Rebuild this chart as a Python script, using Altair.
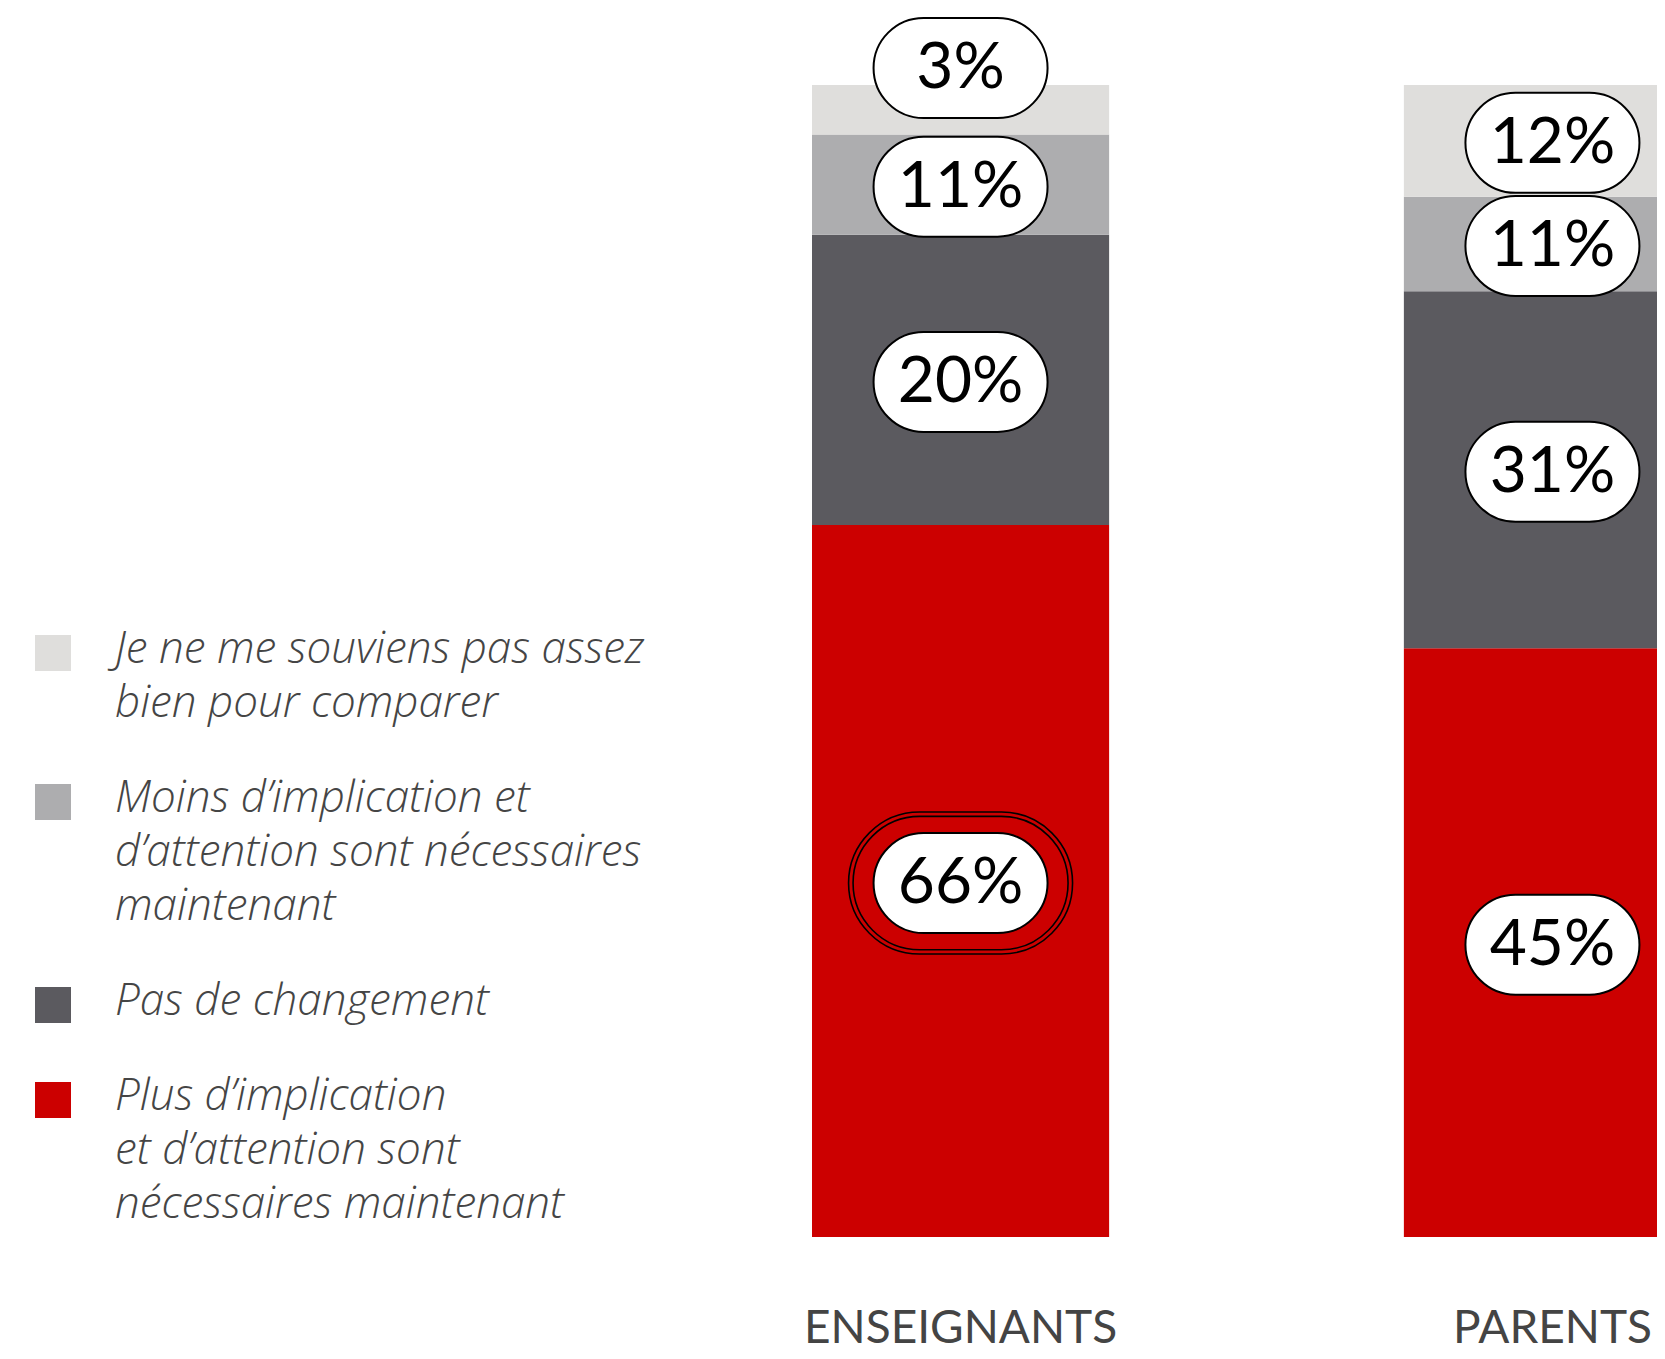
import altair as alt
import pandas as pd

# ---------------- data ----------------
groups = ["ENSEIGNANTS", "PARENTS"]
# stacking order: bottom -> top
categories = [
    "Plus d’implication et d’attention sont nécessaires maintenant",
    "Pas de changement",
    "Moins d’implication et d’attention sont nécessaires maintenant",
    "Je ne me souviens pas assez bien pour comparer",
]
colors = ["#cc0000", "#5b5a5f", "#adadaf", "#dfdedc"]

# printed percentages
labels_enseignants = [66, 20, 11, 3]
labels_parents = [45, 31, 11, 12]
# segment heights as drawn in the picture (share of bar height, %)
heights_enseignants = [61.8, 25.2, 8.7, 4.3]
heights_parents = [51.1, 31.0, 8.2, 9.7]
# highlighted segment (double ring)
highlight_group = "ENSEIGNANTS"
highlight_rank = 0

# legend, top -> bottom
legend_order = [3, 2, 1, 0]
legend_text = [
    "Je ne me souviens pas assez\nbien pour comparer",
    "Moins d’implication et\nd’attention sont nécessaires\nmaintenant",
    "Pas de changement",
    "Plus d’implication\net d’attention sont\nnécessaires maintenant",
]

# ---------------- tables ----------------
rows = []
for g, labs, hs in zip(groups, [labels_enseignants, labels_parents],
                       [heights_enseignants, heights_parents]):
    for rank, (cat, lab, h) in enumerate(zip(categories, labs, hs)):
        rows.append(dict(group=g, category=cat, rank=rank, seg=h,
                         label=f"{lab}%",
                         hl=(g == highlight_group and rank == highlight_rank)))
df = pd.DataFrame(rows)

GAP = 0.76  # gap between legend items, in line units
leg_rows = []
u = 0.0
for k, (ci, txt) in enumerate(zip(legend_order, legend_text)):
    leg_rows.append(dict(category=categories[ci], text=txt, u=u))
    u += txt.count("\n") + 1 + GAP
leg = pd.DataFrame(leg_rows)

# ---------------- layout ----------------
W, H = 1649, 1229
LINE = 54
Y_DOMAIN = [0, 100 * H / 1152]
y_scale = alt.Scale(domain=Y_DOMAIN, zero=False, nice=False)
x_scale = alt.Scale(domain=groups, range=[804, 1693], paddingInner=0.498, paddingOuter=0)
leg_y = alt.Scale(domain=[-655 / LINE, (H - 655) / LINE], reverse=True, zero=False, nice=False)
color_scale = alt.Scale(domain=categories, range=colors)

X = alt.X("group:N", scale=x_scale, title=None, sort=groups)

PILL = "M -0.4253 -0.5747 L 0.4253 -0.5747 A 0.5747 0.5747 0 0 1 0.4253 0.5747 L -0.4253 0.5747 A 0.5747 0.5747 0 0 1 -0.4253 -0.5747 Z"
RING1 = "M -0.3661 -0.6339 L 0.3661 -0.6339 A 0.6339 0.6339 0 0 1 0.3661 0.6339 L -0.3661 0.6339 A 0.6339 0.6339 0 0 1 -0.3661 -0.6339 Z"
RING2 = "M -0.3796 -0.6204 L 0.3796 -0.6204 A 0.6204 0.6204 0 0 1 0.3796 0.6204 L -0.3796 0.6204 A 0.6204 0.6204 0 0 1 -0.3796 -0.6204 Z"

bars = alt.Chart(df).mark_bar(clip=True).encode(
    x=X,
    y=alt.Y("seg:Q", stack="zero", scale=y_scale, axis=None),
    color=alt.Color("category:N", scale=color_scale, legend=None),
    order=alt.Order("rank:Q", sort="ascending"),
)

lab_base = alt.Chart(df).transform_stack(
    stack="seg", as_=["y0", "y1"], groupby=["group"],
    sort=[alt.SortField("rank", order="ascending")],
).transform_calculate(
    ly="datum.seg < 6 ? datum.y1 + 1.65 : (datum.y0 + datum.y1) / 2"
)
LY = alt.Y("ly:Q", scale=y_scale, axis=None)

pills = lab_base.mark_point(
    shape=PILL, size=174 * 174, filled=True, fill="white",
    stroke="black", strokeWidth=2, opacity=1, yOffset=2,
).encode(x=X, y=LY)

ring1 = lab_base.transform_filter("datum.hl").mark_point(
    shape=RING1, size=224 * 224, filled=False, stroke="black",
    strokeWidth=1.6, opacity=1, yOffset=2,
).encode(x=X, y=LY)

ring2 = lab_base.transform_filter("datum.hl").mark_point(
    shape=RING2, size=215 * 215, filled=False, stroke="black",
    strokeWidth=1.6, opacity=1, yOffset=2,
).encode(x=X, y=LY)

texts = lab_base.mark_text(
    font="Lato", fontSize=64, color="black", align="center", baseline="middle",
    yOffset=3,
).encode(x=X, y=LY, text="label:N")

leg_sq = alt.Chart(leg).mark_square(size=36 * 36, opacity=1, yOffset=-10).encode(
    x=alt.value(45),
    y=alt.Y("u:Q", scale=leg_y, axis=None),
    color=alt.Color("category:N", scale=color_scale, legend=None),
)

leg_txt = alt.Chart(leg).mark_text(
    align="left", baseline="alphabetic", lineBreak="\n", lineHeight=LINE,
    font="Open Sans", fontStyle="italic", fontWeight=300, fontSize=44, color="#454545",
).encode(
    x=alt.value(107),
    y=alt.Y("u:Q", scale=leg_y, axis=None),
    text="text:N",
)

chart = alt.layer(bars, pills, ring1, ring2, texts, leg_sq, leg_txt).resolve_scale(
    y="independent"
).properties(
    width=W, height=H,
    padding={"left": 0, "top": 0, "right": 0, "bottom": 114},
    autosize=alt.AutoSizeParams(type="none"),
).configure_view(stroke=None).configure_axisX(
    domain=False, ticks=False, tickSize=0, grid=False, labelAngle=0,
    labelFont="Lato", labelFontSize=46, labelColor="#444444",
    labelBaseline="alphabetic", labelPadding=105, labelLimit=1000,
)

chart.save("out.html", embed_options={"renderer": "svg", "actions": False})
